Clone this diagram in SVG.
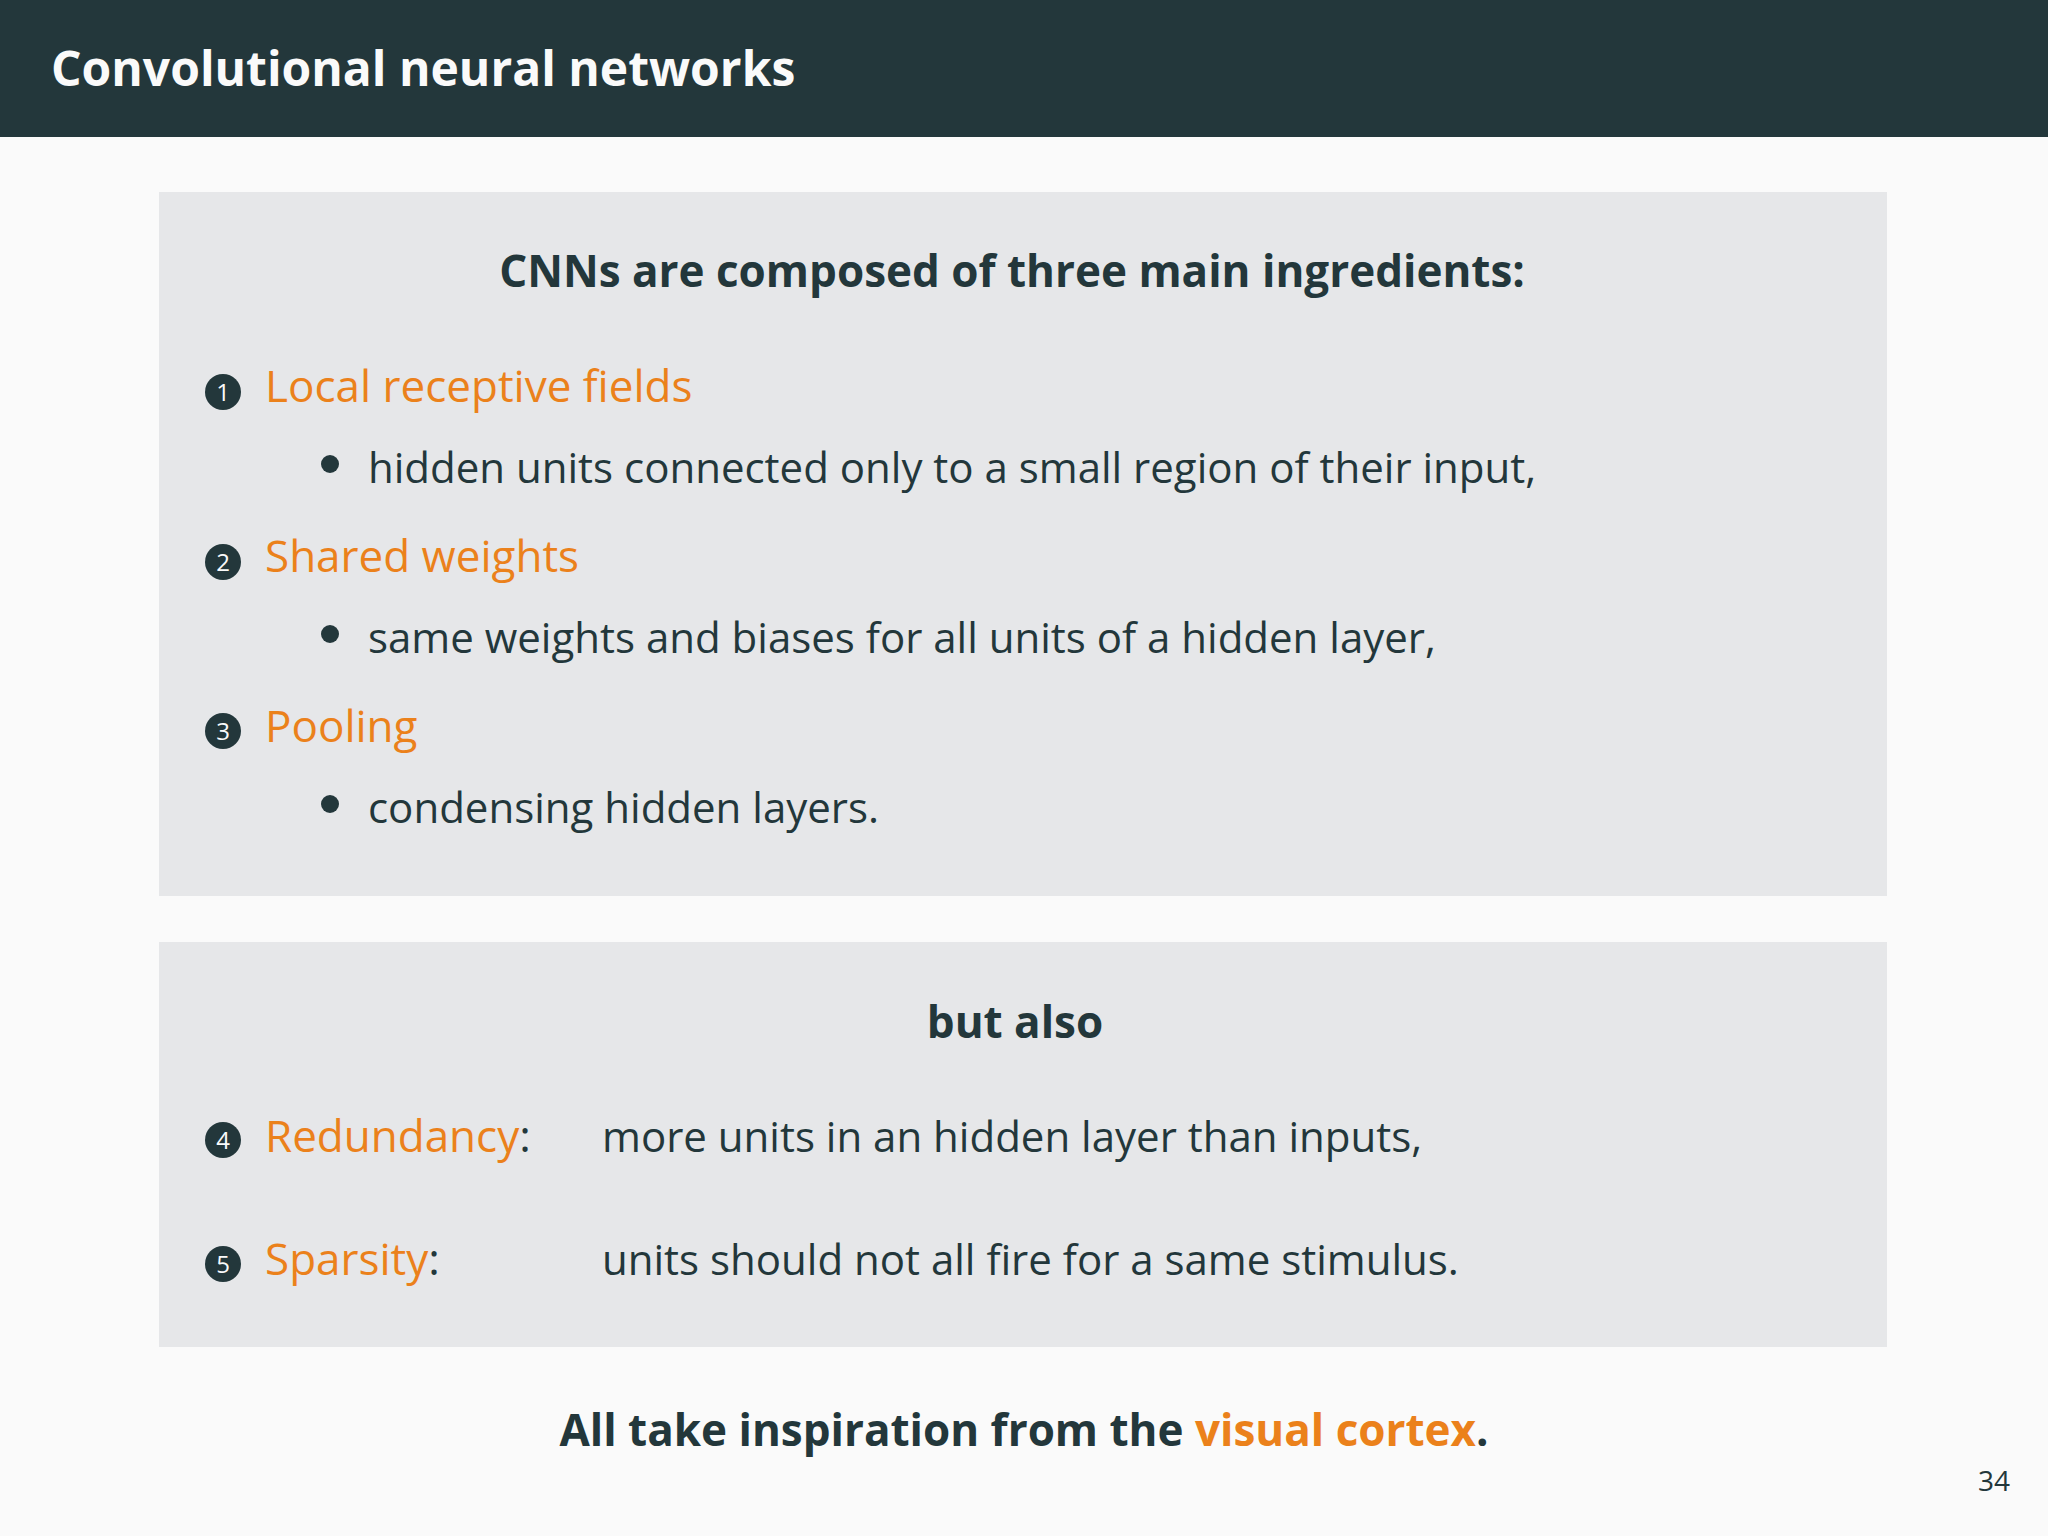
<svg xmlns="http://www.w3.org/2000/svg" width="2048" height="1536" viewBox="0 0 2048 1536">
<style>
text{font-family:"Open Sans","Noto Sans",sans-serif;fill:#23373b}
.b{font-weight:bold}
.o{fill:#eb811b}
.it{font-size:44px}
.sub{font-size:42px}
.n{fill:#23373b}
.nt{font-size:24px;fill:#fafafa;text-anchor:middle}
</style>
<rect width="2048" height="1536" fill="#fafafa"/>
<g id="header"><rect width="2048" height="137" fill="#23373b"/>
<text x="51" y="86" class="b" style="fill:#fafafa;font-size:48px">Convolutional neural networks</text></g>
<g id="box1"><rect x="159" y="192" width="1728" height="704" fill="#e6e7e9"/>
<text x="1012" y="287" class="b" font-size="44" text-anchor="middle">CNNs are composed of three main ingredients:</text>
<circle class="n" cx="223" cy="392" r="18"/><text class="nt" x="223" y="401">1</text>
<text x="265" y="402" class="it o">Local receptive fields</text>
<circle class="n" cx="330" cy="464" r="9"/><text x="368" y="483" class="sub">hidden units connected only to a small region of their input,</text>
<circle class="n" cx="223" cy="562" r="18"/><text class="nt" x="223" y="571">2</text>
<text x="265" y="572" class="it o">Shared weights</text>
<circle class="n" cx="330" cy="634" r="9"/><text x="368" y="653" class="sub">same weights and biases for all units of a hidden layer,</text>
<circle class="n" cx="223" cy="731" r="18"/><text class="nt" x="223" y="740">3</text>
<text x="265" y="742" class="it o">Pooling</text>
<circle class="n" cx="330" cy="804" r="9"/><text x="368" y="823" class="sub">condensing hidden layers.</text></g>
<g id="box2"><rect x="159" y="942" width="1728" height="405" fill="#e6e7e9"/>
<text x="1015" y="1038" class="b" font-size="44" text-anchor="middle">but also</text>
<circle class="n" cx="223" cy="1140" r="18"/><text class="nt" x="223" y="1149">4</text>
<text x="265" y="1152" class="it"><tspan class="o">Redundancy</tspan>:</text>
<text x="602" y="1152" class="sub">more units in an hidden layer than inputs,</text>
<circle class="n" cx="223" cy="1264" r="18"/><text class="nt" x="223" y="1273">5</text>
<text x="265" y="1275" class="it"><tspan class="o">Sparsity</tspan>:</text>
<text x="602" y="1275" class="sub">units should not all fire for a same stimulus.</text></g>
<g id="footer"><text x="1024" y="1446" class="b" font-size="44" text-anchor="middle">All take inspiration from the <tspan class="o">visual cortex</tspan>.</text>
<text x="2010" y="1491" font-size="28" text-anchor="end">34</text></g>
</svg>
